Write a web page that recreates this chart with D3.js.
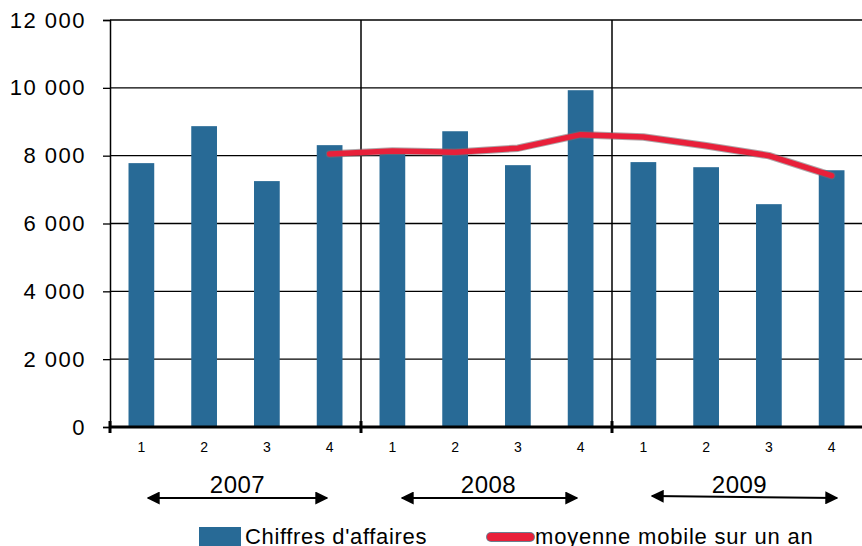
<!DOCTYPE html>
<html><head><meta charset="utf-8">
<script src="https://cdn.jsdelivr.net/npm/d3@7"></script>
<style>body{margin:0;background:#fff;}svg{display:block;font-family:"Liberation Sans",Arial,sans-serif;}</style>
</head><body>
<svg id="c" width="862" height="546"></svg>
<script>
const years = ["2007","2008","2009"];
const quarters = ["1","2","3","4"];
const categories = ["2007-1","2007-2","2007-3","2007-4","2008-1","2008-2","2008-3","2008-4","2009-1","2009-2","2009-3","2009-4"];
const chiffres = [7780,8870,7250,8310,8050,8720,7720,9930,7810,7660,6570,7570];
const moyenne = [null,null,null,8050,8140,8100,8220,8620,8550,8290,8000,7410];
const yTicks = [0,2000,4000,6000,8000,10000,12000];
const seriesNames = ["Chiffres d'affaires","moyenne mobile sur un an"];

const svg = d3.select("#c");
const L=110, R=863, T=20, B=427;
const x = d3.scaleBand().domain(categories).range([L,R]).paddingInner(0.59).paddingOuter(0.295);
const xo = d3.scaleBand().domain(categories).range([L,R]);
const y = d3.scaleLinear().domain([0,12000]).range([B,T]);
const fmt = v => d3.format(",")(v).replace(/,/g," ");

// gridlines
svg.append("g").selectAll("line").data(yTicks.filter(d=>d>0)).join("line")
  .attr("x1",L).attr("x2",R).attr("y1",d=>y(d)).attr("y2",d=>y(d))
  .attr("stroke","#000").attr("stroke-width",1.3);
// year separators
const yearEdges = [0,4,8].map(i=>xo(categories[i]));
svg.append("g").selectAll("line").data(yearEdges.slice(1)).join("line")
  .attr("x1",d=>d).attr("x2",d=>d).attr("y1",T).attr("y2",B)
  .attr("stroke","#000").attr("stroke-width",1.5);

// bars
svg.append("g").selectAll("rect").data(chiffres).join("rect")
  .attr("x",(d,i)=>x(categories[i])).attr("width",x.bandwidth())
  .attr("y",d=>y(d)).attr("height",d=>B-y(d)).attr("fill","#286A96");

// y axis
const ya = d3.axisLeft(y).tickValues(yTicks).tickFormat(fmt).tickSize(7).tickPadding(17);
const yg = svg.append("g").attr("transform",`translate(${L},0)`).call(ya);
yg.select(".domain").attr("stroke","#000").attr("stroke-width",1.5);
yg.selectAll(".tick line").attr("stroke","#000").attr("stroke-width",1.3);
yg.selectAll(".tick text").attr("font-size",22).attr("fill","#000").attr("letter-spacing","1.5px")
  .attr("font-family","'Liberation Sans',Arial,sans-serif");

// x axis
const xa = d3.axisBottom(xo).tickFormat((d,i)=>quarters[i%4]).tickSize(0).tickPadding(15);
const xg = svg.append("g").attr("transform",`translate(0,${B})`).call(xa);
xg.select(".domain").attr("stroke","#000").attr("stroke-width",3).attr("d",`M${L},0H${R}`);
xg.selectAll(".tick text").attr("font-size",14).attr("fill","#000")
  .attr("font-family","'Liberation Sans',Arial,sans-serif");
svg.append("g").selectAll("line").data(yearEdges).join("line")
  .attr("x1",d=>d).attr("x2",d=>d).attr("y1",B-6).attr("y2",B+6)
  .attr("stroke","#000").attr("stroke-width",3);

// moving average line
const pts = moyenne.map((v,i)=>({v,c:categories[i]})).filter(d=>d.v!==null);
const line = d3.line().x(d=>xo(d.c)+xo.bandwidth()/2).y(d=>y(d.v));
svg.append("path").datum(pts).attr("d",line).attr("fill","none")
  .attr("stroke","#7a6a70").attr("stroke-opacity",0.6).attr("stroke-width",7.5)
  .attr("stroke-linecap","round").attr("stroke-linejoin","round");
svg.append("path").datum(pts).attr("d",line).attr("fill","none")
  .attr("stroke","#E8203A").attr("stroke-width",5.5)
  .attr("stroke-linecap","round").attr("stroke-linejoin","round");

// year arrows
const defs = svg.append("defs");
defs.append("marker").attr("id","ah").attr("viewBox","0 0 10 10").attr("refX",9).attr("refY",5)
  .attr("markerWidth",6.5).attr("markerHeight",6.5).attr("markerUnits","strokeWidth").attr("orient","auto-start-reverse")
  .append("path").attr("d","M0,0L10,5L0,10Z").attr("fill","#000");
const arrowSpans = [[148,327,498,498],[402,577,498,498],[652,837,496,498]];
svg.append("g").selectAll("line").data(years).join("line")
  .attr("x1",(d,i)=>arrowSpans[i][0]).attr("x2",(d,i)=>arrowSpans[i][1])
  .attr("y1",(d,i)=>arrowSpans[i][2]).attr("y2",(d,i)=>arrowSpans[i][3])
  .attr("stroke","#000").attr("stroke-width",2)
  .attr("marker-start","url(#ah)").attr("marker-end","url(#ah)");
svg.append("g").selectAll("text").data(years).join("text")
  .attr("x",(d,i)=>xo(categories[i*4])+2*xo.step()+2).attr("y",493)
  .attr("text-anchor","middle").attr("font-size",24).attr("letter-spacing","0.5px").text(d=>d);

// legend
svg.append("rect").attr("x",199).attr("y",527).attr("width",42).attr("height",22).attr("fill","#286A96");
svg.append("text").attr("x",245).attr("y",544).attr("font-size",22).attr("letter-spacing","0.65px").text(seriesNames[0]);
svg.append("line").attr("x1",491).attr("x2",530).attr("y1",537).attr("y2",537)
  .attr("stroke","#6b7f90").attr("stroke-width",10).attr("stroke-linecap","round");
svg.append("line").attr("x1",491).attr("x2",530).attr("y1",537).attr("y2",537)
  .attr("stroke","#E8203A").attr("stroke-width",8).attr("stroke-linecap","round");
svg.append("text").attr("x",535).attr("y",544).attr("font-size",22).attr("letter-spacing","0.8px").text(seriesNames[1]);
</script>
</body></html>
